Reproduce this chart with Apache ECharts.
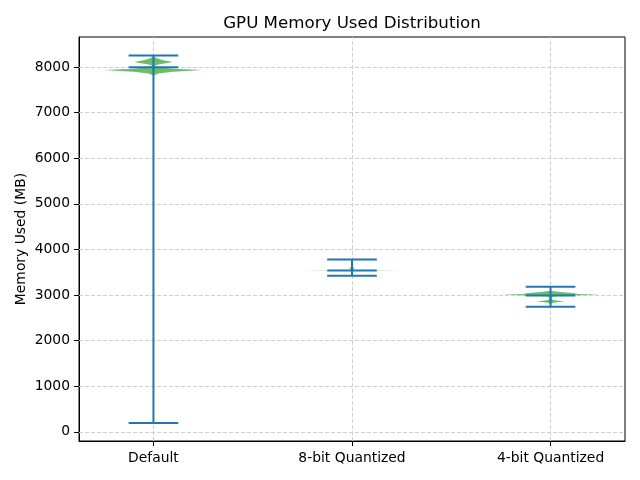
<!DOCTYPE html>
<html>
<head>
<meta charset="utf-8">
<script src="https://cdn.jsdelivr.net/npm/echarts@6/dist/echarts.min.js"></script>
<style>html,body{margin:0;padding:0;background:#fff}#c{width:640px;height:480px}</style>
</head>
<body>
<div id="c"></div>
<script>
const categories = ['Default', '8-bit Quantized', '4-bit Quantized'];
const minVals = [195, 3425, 2745];
const maxVals = [8253, 3782, 3185];
const medianVals = [7995, 3540, 2993];
const yTicks = [0, 1000, 2000, 3000, 4000, 5000, 6000, 7000, 8000];
const xTicks = [1, 2, 3];

// violin density profiles (memory value, relative half-width)
const defaultProfileValues = [7814, 7860, 7900, 7935, 7965, 7995, 8020, 8034, 8060, 8085, 8110, 8150, 8190, 8231];
const defaultProfileWidths = [0, 0.1, 0.4, 1.0, 0.4, 0.12, 0.04, 0.03, 0.12, 0.25, 0.39, 0.2, 0.08, 0];
const bit8ProfileValues = [3525, 3534, 3540, 3546, 3555, 3570, 3590, 3610, 3625];
const bit8ProfileWidths = [0, 0.04, 1.0, 0.04, 0.02, 0.04, 0.05, 0.03, 0];
const bit4ProfileValues = [2800, 2830, 2860, 2890, 2930, 2970, 2992, 3008, 3025, 3045, 3070, 3095];
const bit4ProfileWidths = [0, 0.05, 0.28, 0.05, 0.02, 0.05, 0.3, 1.0, 0.55, 0.45, 0.2, 0];

const profileValues = [defaultProfileValues, bit8ProfileValues, bit4ProfileValues];
const profileWidths = [defaultProfileWidths, bit8ProfileWidths, bit4ProfileWidths];

const HALF = 0.25;   // max half-width of violin in x units
const CAP = 0.125;   // half-length of the extrema / median lines
const FONT = 'DejaVu Sans';
const BLUE = '#1f77b4';

const chart = echarts.init(document.getElementById('c'), null, {renderer: 'canvas'});

function violinItem(params, api) {
  const i = params.dataIndex;
  const pos = xTicks[i];
  const vals = profileValues[i], ws = profileWidths[i];
  const right = [], left = [];
  for (let k = 0; k < vals.length; k++) {
    right.push(api.coord([pos + ws[k] * HALF, vals[k]]));
    left.push(api.coord([pos - ws[k] * HALF, vals[k]]));
  }
  const pts = right.concat(left.reverse());
  return {
    type: 'polygon',
    shape: {points: pts},
    style: {fill: 'rgba(44,160,44,0.7)', stroke: null}
  };
}

function linesItem(params, api) {
  const i = params.dataIndex;
  const pos = xTicks[i];
  const style = {stroke: BLUE, lineWidth: 2, fill: null};
  const seg = (x1, y1, x2, y2) => {
    const a = api.coord([x1, y1]), b = api.coord([x2, y2]);
    return {type: 'line', shape: {x1: a[0], y1: a[1], x2: b[0], y2: b[1]}, style: style};
  };
  return {
    type: 'group',
    children: [
      seg(pos, minVals[i], pos, maxVals[i]),
      seg(pos - CAP, minVals[i], pos + CAP, minVals[i]),
      seg(pos - CAP, maxVals[i], pos + CAP, maxVals[i]),
      seg(pos - CAP, medianVals[i], pos + CAP, medianVals[i])
    ]
  };
}

const gridStyle = {color: '#cfcfcf', type: [4, 2], width: 1};

const option = {
  animation: false,
  backgroundColor: '#fff',
  title: {
    text: 'GPU Memory Used Distribution',
    left: 347, top: 10, textAlign: 'center',
    textStyle: {fontFamily: FONT, fontSize: 16.67, fontWeight: 'normal', color: '#000'}
  },
  grid: {left: 79, top: 37, width: 546, height: 404, show: true, borderColor: '#000', borderWidth: 1, backgroundColor: 'transparent'},
  xAxis: {
    type: 'value', min: 0.625, max: 3.375,
    axisLine: {show: true, onZero: false, lineStyle: {color: '#000', width: 1}},
    axisTick: {show: true, length: 5, customValues: xTicks, lineStyle: {color: '#000'}},
    axisLabel: {customValues: xTicks, margin: 10, color: '#000', fontFamily: FONT, fontSize: 13.89,
      formatter: v => categories[xTicks.indexOf(v)] || ''},
    splitLine: {show: false}
  },
  yAxis: {
    type: 'value', min: -200, max: 8660,
    name: 'Memory Used (MB)', nameLocation: 'middle', nameGap: 51, nameMoveOverlap: false,
    nameTextStyle: {fontFamily: FONT, fontSize: 13.89, color: '#000'},
    axisLine: {show: true, onZero: false, lineStyle: {color: '#000', width: 1}},
    axisTick: {show: true, length: 5, customValues: yTicks, lineStyle: {color: '#000'}},
    axisLabel: {customValues: yTicks, margin: 9, color: '#000', fontFamily: FONT, fontSize: 13.89,
      formatter: v => String(v)},
    splitLine: {show: false}
  },
  series: [
    {
      type: 'line', data: [], silent: true, z: 1,
      markLine: {
        silent: true, symbol: 'none', animation: false, z: 1,
        label: {show: false},
        lineStyle: gridStyle,
        data: yTicks.map(v => ({yAxis: v})).concat(xTicks.map(v => ({xAxis: v})))
      }
    },
    {
      type: 'custom', z: 2,
      renderItem: violinItem,
      data: categories.map((c, i) => [xTicks[i], medianVals[i]]),
      clip: true
    },
    {
      type: 'custom', z: 3,
      renderItem: linesItem,
      data: categories.map((c, i) => [xTicks[i], medianVals[i]]),
      clip: true
    }
  ]
};
chart.setOption(option);
</script>
</body>
</html>
